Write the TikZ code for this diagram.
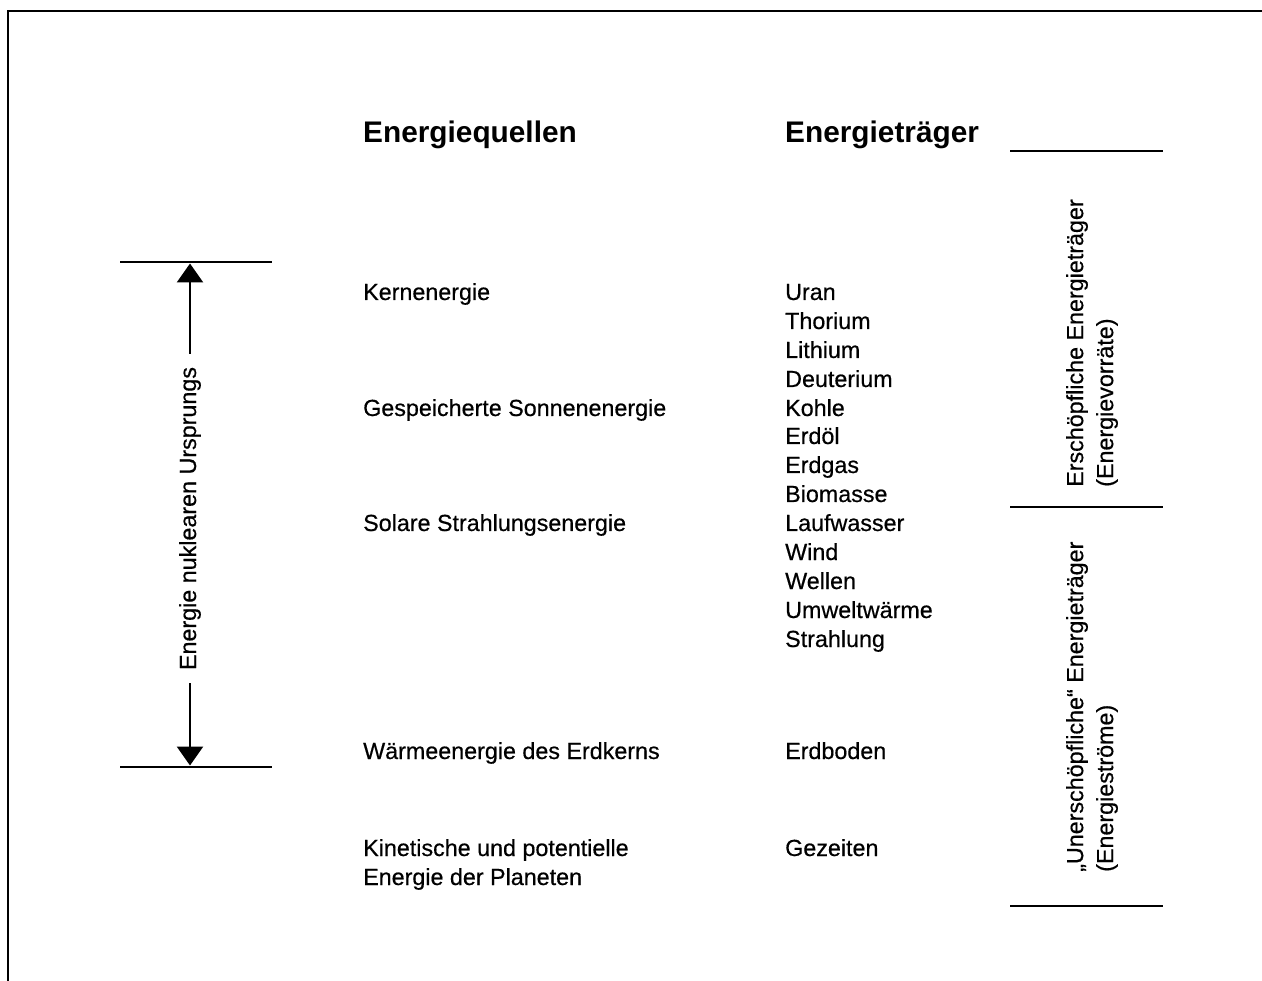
\documentclass[tikz,border=0pt]{standalone}
\usepackage{fontspec}
\setmainfont[FakeBold=0.5]{Liberation Sans}[BoldFeatures={FakeBold=0}]
\newfontfamily\bodyfont[FakeBold=0.5]{Liberation Sans}
\usetikzlibrary{arrows.meta}
\begin{document}
\begin{tikzpicture}[x=1pt,y=-1pt,
  txt/.style={anchor=base west,inner sep=0pt,font=\bodyfont\fontsize{23.3}{29}\selectfont},
  head/.style={anchor=base west,inner sep=0pt,font=\fontsize{29.8}{35}\selectfont\bfseries},
  rule/.style={line width=2.3pt},
  frame/.style={line width=2.8pt},
  vtxt/.style={rotate=90,anchor=north west,align=left,inner sep=0pt,font=\bodyfont\fontsize{23.3}{30}\selectfont},
  dimarrow/.style={line width=2.6pt,-{Triangle[width=26pt,length=19pt]}}
]
\useasboundingbox (0,0) rectangle (1262,981);
% frame
\draw[frame] (8,981) -- (8,11) -- (1262,11);
% headings
\node[head] (hq) at (363,143) {Energiequellen};
\node[head] (ht) at (785,143) {Energieträger};
% sources
\node[txt] (q1) at (363,300) {Kernenergie};
\node[txt] (q2) at (363,416) {Gespeicherte Sonnenenergie};
\node[txt] (q3) at (363,531) {Solare Strahlungsenergie};
\node[txt] (q4) at (363,759) {Wärmeenergie des Erdkerns};
\node[txt] (q5) at (363,856) {Kinetische und potentielle};
\node[txt] (q6) at (363,885) {Energie der Planeten};
% carriers
\node[txt] (t1) at (785,300) {Uran};
\node[txt] (t2) at (785,329) {Thorium};
\node[txt] (t3) at (785,358) {Lithium};
\node[txt] (t4) at (785,387) {Deuterium};
\node[txt] (t5) at (785,416) {Kohle};
\node[txt] (t6) at (785,444) {Erdöl};
\node[txt] (t7) at (785,473) {Erdgas};
\node[txt] (t8) at (785,502) {Biomasse};
\node[txt] (t9) at (785,531) {Laufwasser};
\node[txt] (t10) at (785,560) {Wind};
\node[txt] (t11) at (785,589) {Wellen};
\node[txt] (t12) at (785,618) {Umweltwärme};
\node[txt] (t13) at (785,647) {Strahlung};
\node[txt] (t14) at (785,759) {Erdboden};
\node[txt] (t15) at (785,856) {Gezeiten};
% right rules
\draw[rule] (1010,151) -- (1163,151);
\draw[rule] (1010,507) -- (1163,507);
\draw[rule] (1010,906) -- (1163,906);
% right rotated labels
\node[vtxt] (r1) at (1066,487) {Erschöpfliche Energieträger\\(Energievorräte)};
\node[vtxt] (r2) at (1066,872) {„Unerschöpfliche“ Energieträger\\(Energieströme)};
% left range
\draw[rule] (120,262) -- (272,262);
\draw[rule] (120,767) -- (272,767);
\coordinate (atop) at (190,263.5);
\coordinate (abot) at (190,765.5);
\node[rotate=90,inner xsep=13pt,inner ysep=0pt,font=\bodyfont\fontsize{23.3}{29}\selectfont] (vlab) at (190,518.5) {Energie nuklearen Ursprungs};
\draw[dimarrow] (vlab.east) -- (atop);
\draw[dimarrow] (vlab.west) -- (abot);
\end{tikzpicture}
\end{document}
